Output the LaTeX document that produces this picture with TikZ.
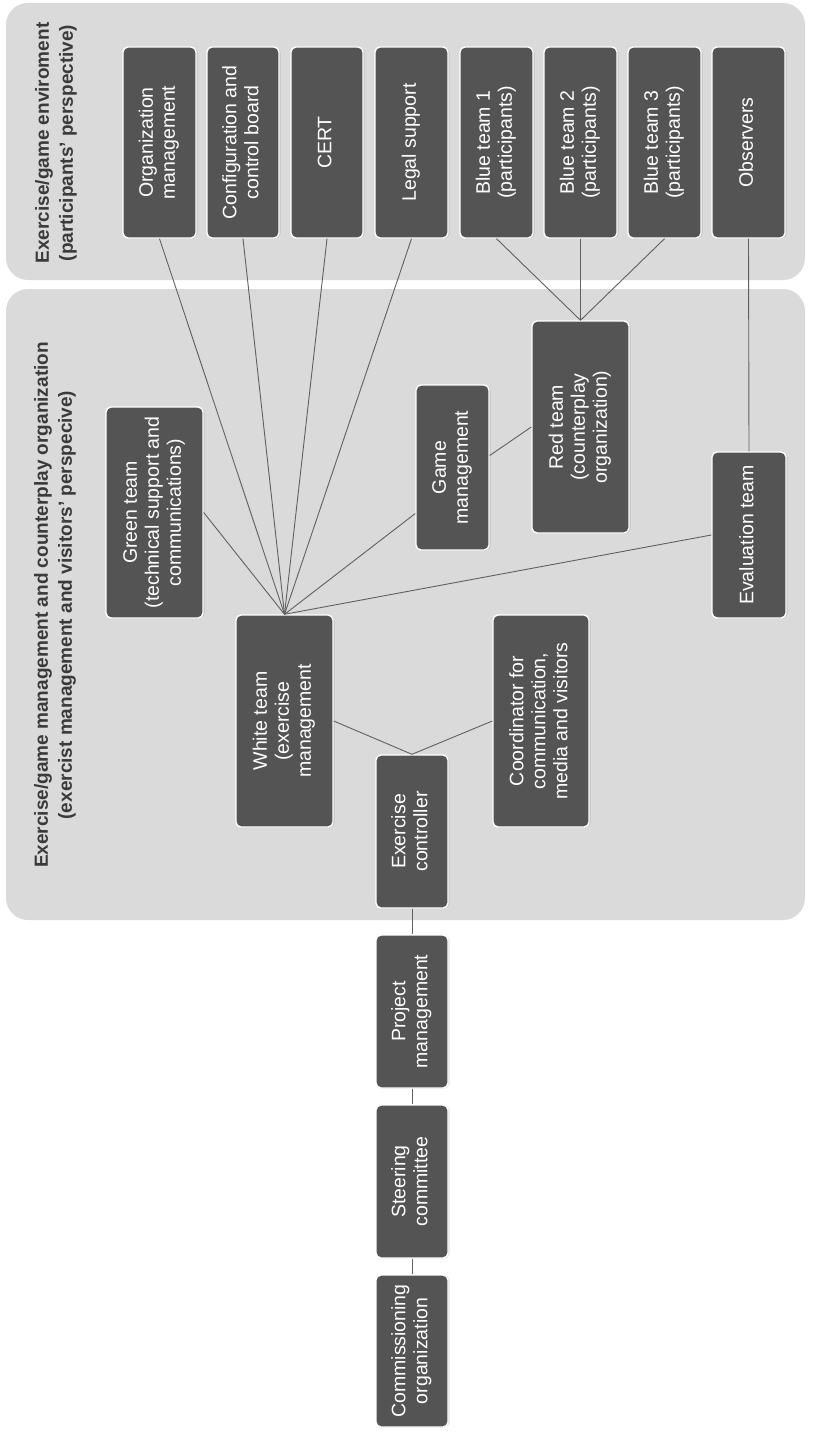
\documentclass[tikz,border=0pt]{standalone}
\usepackage{fontspec}
\setmainfont{Liberation Sans}
\usepackage{graphicx}
\usetikzlibrary{shadows}
\definecolor{boxgray}{RGB}{84,84,84}
\definecolor{panelgray}{RGB}{218,218,218}
\definecolor{linegray}{RGB}{96,96,96}
\definecolor{titlegray}{RGB}{58,58,58}
\newcommand\vtext[1]{\rotatebox{90}{\begin{tabular}{@{}c@{}}#1\end{tabular}}}
\newcommand\bx[6]{\node[orgbox, minimum width={(#3-#2)*1pt}, minimum height={(#5-#4)*1pt}] (#1) at ({(#2+#3)/2},{-(#4+#5)/2}) {\vtext{#6}};}
\tikzset{
  orgbox/.style={draw=white, line width=1.4pt, fill=boxgray, rounded corners=5pt, inner sep=0pt, text=white,
    font=\fontsize{19.5}{22}\selectfont,
    drop shadow={shadow xshift=1.5pt, shadow yshift=-0.5pt, opacity=0.25}},
  conn/.style={draw=linegray, line width=0.9pt},
  paneltitle/.style={rotate=90, align=center, text=titlegray, font=\fontsize{19}{24}\selectfont\bfseries, inner sep=0pt},
}
\begin{document}
\begin{tikzpicture}[x=1pt, y=1pt]
\useasboundingbox (0,0) rectangle (814,-1434);
\fill[white] (0,0) rectangle (814,-1434);
% panels
\fill[panelgray, rounded corners=22pt] (6,-3) rectangle (805,-280);
\fill[panelgray, rounded corners=22pt] (6,-289) rectangle (805,-920);
% titles
\node[paneltitle] (envtitle) at (56,-143) {Exercise/game enviroment\\(participants' perspective)};
\node[paneltitle] (mgmttitle) at (55,-605) {Exercise/game management and counterplay organization\\(exercist management and visitors' perspecive)};
% top row
\bx{org}{123}{196}{47}{238}{Organization\\management}
\bx{cfg}{207}{279}{47}{238}{Configuration and\\control board}
\bx{cert}{291}{363}{47}{238}{CERT}
\bx{legal}{375}{448}{47}{238}{Legal support}
\bx{blueA}{460}{533}{47}{238}{Blue team 1\\(participants)}
\bx{blueB}{544}{617}{47}{238}{Blue team 2\\(participants)}
\bx{blueC}{628}{701}{47}{238}{Blue team 3\\(participants)}
\bx{obs}{712}{785}{47}{238}{Observers}
% management panel
\bx{green}{106}{203}{407}{618}{Green team\\(technical support and\\communications)}
\bx{game}{416}{489}{385}{550}{Game\\management}
\bx{red}{532}{629}{321}{533}{Red team\\(counterplay\\organization)}
\bx{eval}{712}{786}{452}{618}{Evaluation team}
\bx{white}{236}{333}{615}{827}{White team\\(exercise\\management}
\bx{ec}{376}{448}{755}{908}{Exercise\\controller}
\bx{coord}{493}{589}{615}{827}{Coordinator for\\communication,\\media and visitors}
% outside chain
\bx{pm}{376}{448}{935}{1088}{Project\\management}
\bx{steer}{376}{448}{1105}{1258}{Steering\\committee}
\bx{comm}{376}{448}{1275}{1427}{Commissioning\\organization}
% connectors
\draw[conn] (white.north) -- (org.south);
\draw[conn] (white.north) -- (cfg.south);
\draw[conn] (white.north) -- (cert.south);
\draw[conn] (white.north) -- (legal.south);
\draw[conn] (white.north) -- (green.east);
\draw[conn] (white.north) -- ([yshift=-46pt]game.west);
\draw[conn] ([yshift=12pt]game.east) -- (red.west);
\draw[conn] (white.north) -- (eval.west);
\draw[conn] (blueA.south) -- (red.north);
\draw[conn] (blueB.south) -- (red.north);
\draw[conn] (blueC.south) -- (red.north);
\draw[conn] (obs.south) -- (eval.north);
\draw[conn] (white.east) -- (ec.north);
\draw[conn] (coord.west) -- (ec.north);
\draw[conn] (ec.south) -- (pm.north);
\draw[conn] (pm.south) -- (steer.north);
\draw[conn] (steer.south) -- (comm.north);
\end{tikzpicture}
\end{document}
